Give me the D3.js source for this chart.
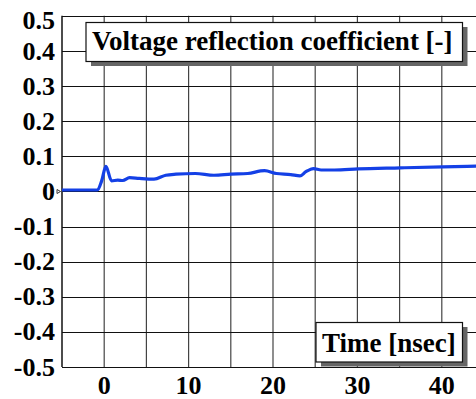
<!DOCTYPE html>
<html>
<head>
<meta charset="utf-8">
<script src="https://cdn.jsdelivr.net/npm/d3@7"></script>
<style>
  body { margin: 0; background: #fff; }
  svg text { font-family: "Liberation Serif", "Times New Roman", serif; font-weight: bold; fill: #000; }
</style>
</head>
<body>
<svg id="chart" width="476" height="399"></svg>
<script>
// time in nsec, reflection coefficient
var times  = [-5, -0.8, -0.3, 0.2, 0.87, 1.6, 2.2, 3.0, 4.15, 5.9, 7.3, 8.5, 10.8, 13.0, 15.0, 17.0, 19.0, 20.4, 22.1, 23.2, 23.9, 24.8, 25.7, 27.3, 30.1, 35.1, 40.1, 44.5];
var values = [0.004, 0.004, 0.03, 0.071, 0.030, 0.032, 0.031, 0.039, 0.037, 0.035, 0.046, 0.049, 0.051, 0.046, 0.049, 0.051, 0.059, 0.051, 0.048, 0.044, 0.056, 0.065, 0.061, 0.061, 0.064, 0.067, 0.070, 0.072];
var xTicks = [0, 10, 20, 30, 40];
var yTicks = [0.5, 0.4, 0.3, 0.2, 0.1, 0, -0.1, -0.2, -0.3, -0.4, -0.5];
var yTickLabels = ["0.5", "0.4", "0.3", "0.2", "0.1", "0", "-0.1", "-0.2", "-0.3", "-0.4", "-0.5"];
var yTitle = "Voltage reflection coefficient [-]";
var xTitle = "Time [nsec]";

var svg = d3.select("#chart");
var plotLeft = 62, plotTop = 15.8, plotBottom = 367;

var x = d3.scaleLinear().domain([-5, 45]).range([plotLeft, plotLeft + 50 * 8.44]);
var y = d3.scaleLinear().domain([-0.5, 0.5]).range([plotBottom, plotTop]);

var g = svg.append("g");

// grid
g.selectAll(".vgrid")
  .data(d3.range(0, 46, 5))
  .enter().append("line")
  .attr("x1", function(d) { return x(d); })
  .attr("x2", function(d) { return x(d); })
  .attr("y1", plotTop).attr("y2", plotBottom)
  .attr("stroke", "#444").attr("stroke-width", 1.2);

g.selectAll(".hgrid")
  .data(yTicks)
  .enter().append("line")
  .attr("x1", plotLeft).attr("x2", 476)
  .attr("y1", function(d) { return Math.round(y(d)) + 0.5; })
  .attr("y2", function(d) { return Math.round(y(d)) + 0.5; })
  .attr("stroke", "#111").attr("stroke-width", 1.2);

// frame (left)
g.append("line")
  .attr("x1", plotLeft).attr("x2", plotLeft)
  .attr("y1", plotTop).attr("y2", plotBottom)
  .attr("stroke", "#111").attr("stroke-width", 1.5);

// little zero marker left of the axis
var y0 = Math.round(y(0)) + 0.5;
g.append("path")
  .attr("d", "M" + (plotLeft - 5) + "," + (y0 - 2) + "L" + (plotLeft - 1.5) + "," + y0 + "L" + (plotLeft - 5) + "," + (y0 + 2) + "Z")
  .attr("fill", "#fff").attr("stroke", "#222").attr("stroke-width", 0.9);

// curve
var line = d3.line()
  .x(function(d, i) { return x(times[i]); })
  .y(function(d) { return y(d); })
  .curve(d3.curveMonotoneX);

g.append("path")
  .datum(values)
  .attr("d", line)
  .attr("fill", "none")
  .attr("stroke", "#1440e6")
  .attr("stroke-width", 3.2)
  .attr("stroke-linejoin", "round");

// tick labels
g.selectAll(".ylab")
  .data(yTicks)
  .enter().append("text")
  .attr("x", 55)
  .attr("y", function(d) { return Math.max(y(d), 20); })
  .attr("dy", "0.33em")
  .attr("text-anchor", "end")
  .attr("font-size", 26)
  .text(function(d, i) { return yTickLabels[i]; });

g.selectAll(".xlab")
  .data(xTicks)
  .enter().append("text")
  .attr("x", function(d) { return x(d); })
  .attr("y", 394)
  .attr("text-anchor", "middle")
  .attr("font-size", 26)
  .text(function(d) { return d; });

// boxed titles with shadow
function boxTitle(txt, bx, by, bw, bh, tx, ty) {
  g.append("rect")
    .attr("x", bx + 5).attr("y", by + 4.5)
    .attr("width", bw).attr("height", bh)
    .attr("fill", "#666");
  g.append("rect")
    .attr("x", bx).attr("y", by)
    .attr("width", bw).attr("height", bh)
    .attr("fill", "#fff").attr("stroke", "#111").attr("stroke-width", 1.2);
  g.append("text")
    .attr("x", tx).attr("y", ty)
    .attr("font-size", 27)
    .text(txt);
}

boxTitle(yTitle, 86, 22.5, 376.5, 39, 92, 50);
boxTitle(xTitle, 316, 322.5, 146.5, 39.5, 322, 351.5);
</script>
</body>
</html>
